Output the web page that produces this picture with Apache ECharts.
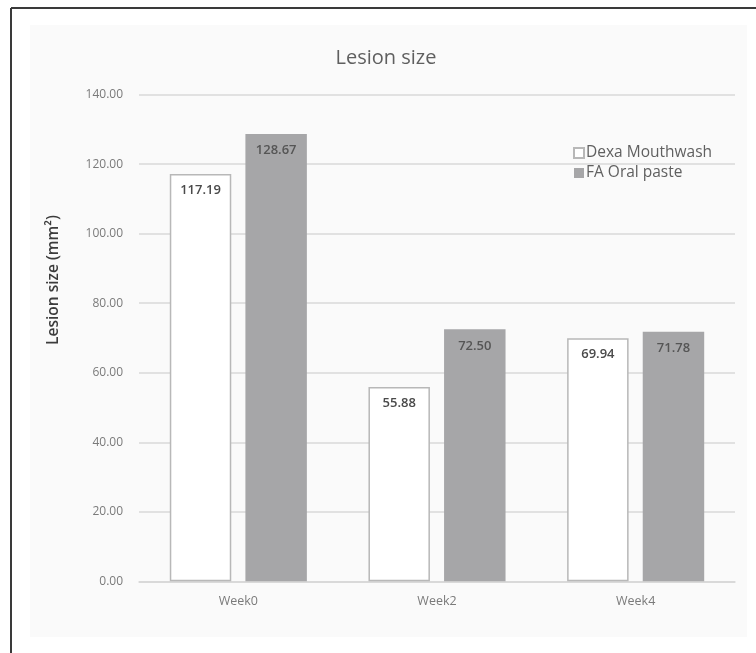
<!DOCTYPE html>
<html>
<head>
<meta charset="utf-8">
<style>
  html, body { margin: 0; padding: 0; background: #ffffff; }
  #chart { width: 756px; height: 653px; }
</style>
<script src="https://cdn.jsdelivr.net/npm/echarts@6/dist/echarts.min.js"></script>
</head>
<body>
<div id="chart"></div>
<script>
// Lesion size by week for the two treatments
const weeks = ['Week0', 'Week2', 'Week4'];
const dexaMouthwash = [117.19, 55.88, 69.94];
const faOralPaste = [128.67, 72.50, 71.78];
const seriesNames = ['Dexa Mouthwash', 'FA Oral paste'];
const yAxisTitle = 'Lesion size (mm²)';

const FONT = '"Open Sans", Lato, sans-serif';

const chart = echarts.init(document.getElementById('chart'), null, { renderer: 'canvas' });

const labelStyle = {
  show: true,
  position: 'insideTop',
  distance: 10,
  fontFamily: FONT,
  fontSize: 13,
  fontWeight: 600,
  color: '#4a4a4a',
  formatter: p => p.value.toFixed(2)
};

chart.setOption({
  animation: false,
  backgroundColor: '#ffffff',
  graphic: [
    // light panel behind the plot
    { type: 'rect', z: -10, shape: { x: 30, y: 25, width: 717, height: 612 }, style: { fill: '#fafafa' } },
    // frame lines
    { type: 'line', z: -5, shape: { x1: 11, y1: 8, x2: 756, y2: 8 }, style: { stroke: '#3a3a3a', lineWidth: 2 } },
    { type: 'line', z: -5, shape: { x1: 11, y1: 8, x2: 11, y2: 653 }, style: { stroke: '#3a3a3a', lineWidth: 2 } },
    // vertical axis title, placed a little above the plot's middle
    {
      type: 'text',
      x: 54,
      y: 280,
      rotation: Math.PI / 2,
      style: {
        text: yAxisTitle,
        fontFamily: FONT,
        fontSize: 15.5,
        fontWeight: 600,
        fill: '#3c3c3c',
        align: 'center',
        verticalAlign: 'middle'
      }
    }
  ],
  title: {
    text: 'Lesion size',
    left: 381,
    top: 43,
    textAlign: 'center',
    textStyle: { fontFamily: FONT, fontSize: 20, fontWeight: 'normal', color: '#5f5f5f' }
  },
  legend: {
    data: seriesNames,
    orient: 'vertical',
    left: 568,
    top: 140,
    itemWidth: 10,
    itemHeight: 10,
    itemGap: 4,
    icon: 'rect',
    textStyle: { fontFamily: FONT, fontSize: 15.5, color: '#606060', padding: [0, 0, 0, -3] }
  },
  grid: { left: 139, right: 21, top: 94.7, bottom: 71.7 },
  xAxis: {
    type: 'category',
    data: weeks,
    axisLine: { lineStyle: { color: '#d6d6d6', width: 1.5 } },
    axisTick: { show: false },
    axisLabel: { fontFamily: FONT, fontSize: 12.5, color: '#7a7a7a', margin: 14 }
  },
  yAxis: {
    type: 'value',
    min: 0,
    max: 140,
    interval: 20,
    axisLine: { show: false },
    axisTick: { show: false },
    splitLine: { lineStyle: { color: '#d9d9d9', width: 1.5 } },
    axisLabel: { fontFamily: FONT, fontSize: 12, color: '#7a7a7a', margin: 16, formatter: v => v.toFixed(2) }
  },
  series: [
    {
      name: seriesNames[0],
      type: 'bar',
      data: dexaMouthwash,
      barGap: '23%',
      barCategoryGap: '31%',
      itemStyle: { color: '#ffffff', borderColor: '#b8b8b8', borderWidth: 1.5 },
      label: labelStyle
    },
    {
      name: seriesNames[1],
      type: 'bar',
      data: faOralPaste,
      itemStyle: { color: '#a6a6a8' },
      label: Object.assign({}, labelStyle, { color: '#555555' })
    }
  ]
});
</script>
</body>
</html>
